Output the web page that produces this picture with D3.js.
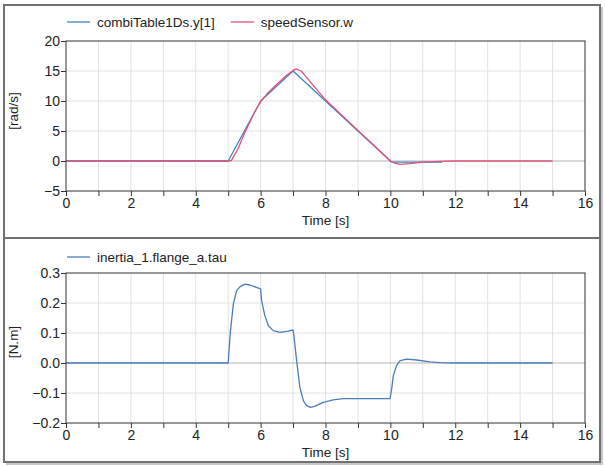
<!DOCTYPE html>
<html>
<head>
<meta charset="utf-8">
<script src="https://cdn.jsdelivr.net/npm/d3@7/dist/d3.min.js"></script>
<style>
  html, body { margin: 0; padding: 0; background: #fff; }
  svg text { font-family: "Liberation Sans", Arial, sans-serif; fill: #222; }
</style>
</head>
<body>
<svg id="chart" width="605" height="467"></svg>
<script>
// ---------- data ----------
const xTicks = [0, 2, 4, 6, 8, 10, 12, 14, 16];
const topYTicks = [-5, 0, 5, 10, 15, 20];
const botYTicks = [-0.2, -0.1, 0.0, 0.1, 0.2, 0.3];

const tableT = [0, 5, 6, 7, 10, 10.05, 11.6];
const tableY = [0, 0, 10, 15, 0, -0.2, -0.2];

const speedT = [0, 5, 5.1, 5.3, 5.5, 5.8, 6.0, 6.2, 6.5, 6.8, 7.0, 7.1, 7.25, 7.5, 8, 9, 9.5, 10, 10.15, 10.3, 10.6, 11, 11.5, 12, 15];
const speedY = [0, 0, 0.1, 2.0, 4.6, 8.0, 9.9, 11.2, 12.8, 14.3, 15.1, 15.35, 15.0, 13.4, 10.2, 5.1, 2.6, 0.0, -0.4, -0.55, -0.45, -0.2, -0.05, 0, 0];

const tauT = [0, 5.0, 5.07, 5.16, 5.26, 5.36, 5.52, 5.67, 5.87, 6.0, 6.03, 6.13, 6.24, 6.39, 6.6, 6.85, 7.0, 7.03, 7.11, 7.21, 7.32, 7.42, 7.54, 7.68, 7.93, 8.24, 8.55, 9.27, 9.99, 10.04, 10.09, 10.19, 10.3, 10.5, 10.81, 11.22, 11.53, 12, 15];
const tauY = [0, 0, 0.108, 0.197, 0.241, 0.254, 0.263, 0.26, 0.252, 0.247, 0.208, 0.158, 0.124, 0.108, 0.102, 0.106, 0.11, 0.086, 0.008, -0.081, -0.126, -0.142, -0.148, -0.144, -0.131, -0.123, -0.119, -0.119, -0.119, -0.087, -0.042, -0.009, 0.008, 0.013, 0.010, 0.004, 0.001, 0, 0];

const topSeries = [
  { name: "combiTable1Ds.y[1]", t: tableT, y: tableY, color: "#3f86c4" },
  { name: "speedSensor.w", t: speedT, y: speedY, color: "#e5507a" }
];
const botSeries = [
  { name: "inertia_1.flange_a.tau", t: tauT, y: tauY, color: "#4a7dbb" }
];

// ---------- drawing ----------
const svg = d3.select("#chart");
const FONT = "'Liberation Sans', Arial, sans-serif";

// outer frame with shadow
svg.append("rect").attr("x", 6).attr("y", 7).attr("width", 597).attr("height", 458).attr("fill", "#c8c8c8");
svg.append("rect").attr("x", 4).attr("y", 5).attr("width", 596).attr("height", 457)
  .attr("fill", "#fff").attr("stroke", "#707070").attr("stroke-width", 2);
svg.append("line").attr("x1", 4).attr("x2", 600).attr("y1", 238).attr("y2", 238)
  .attr("stroke", "#707070").attr("stroke-width", 2);

function panel(opts) {
  const x = d3.scaleLinear().domain([0, 16]).range([66, 585]);
  const y = d3.scaleLinear().domain(opts.yDomain).range([opts.yBottom, opts.yTop]);
  const g = svg.append("g");

  // grid
  g.append("g").selectAll("line").data(d3.range(1, 16)).join("line")
    .attr("x1", d => x(d)).attr("x2", d => x(d))
    .attr("y1", opts.yTop).attr("y2", opts.yBottom)
    .attr("stroke", "#e2e2e2").attr("stroke-width", 1);
  g.append("g").selectAll("line").data(opts.yTicks.slice(1, -1)).join("line")
    .attr("x1", 66).attr("x2", 585)
    .attr("y1", d => y(d)).attr("y2", d => y(d))
    .attr("stroke", d => Math.abs(d) < 1e-9 ? "#b4b4b4" : "#e2e2e2").attr("stroke-width", 1);

  // series
  const line = d3.line().x(d => x(d[0])).y(d => y(d[1]));
  opts.series.forEach(s => {
    g.append("path").datum(s.t.map((t, i) => [t, s.y[i]]))
      .attr("d", line).attr("fill", "none")
      .attr("stroke", s.color).attr("stroke-width", 1.3).attr("stroke-linejoin", "round");
  });

  // frame
  g.append("rect").attr("x", 66).attr("y", opts.yTop).attr("width", 519).attr("height", opts.yBottom - opts.yTop)
    .attr("fill", "none").attr("stroke", "#333").attr("stroke-width", 1);

  // x axis
  const xa = g.append("g").attr("transform", `translate(0,${opts.yBottom})`)
    .call(d3.axisBottom(x).tickValues(d3.range(0, 17)).tickSize(5).tickPadding(2)
      .tickFormat(d => xTicks.includes(d) ? d : ""));
  xa.select(".domain").remove();
  xa.attr("font-family", FONT);
  xa.selectAll("line").attr("stroke", "#333");
  xa.selectAll("text").attr("font-size", "14px").attr("fill", "#222");

  // y axis
  const ya = g.append("g").attr("transform", "translate(66,0)")
    .call(d3.axisLeft(y).tickValues(opts.yTicks).tickSize(5).tickPadding(1).tickFormat(opts.fmt));
  ya.select(".domain").remove();
  ya.attr("font-family", FONT);
  ya.selectAll("line").attr("stroke", "#333");
  ya.selectAll("text").attr("font-size", "14px").attr("fill", "#222");

  // axis titles
  g.append("text").attr("x", x(8)).attr("y", opts.yBottom + 34).attr("text-anchor", "middle")
    .attr("font-size", "13.5px").text("Time [s]");
  g.append("text").attr("transform", `translate(18,${opts.yLabelY}) rotate(-90)`)
    .attr("text-anchor", "middle").attr("font-size", "13.5px").text(opts.yLabel);

  // legend
  let lx = 67;
  opts.series.forEach(s => {
    g.append("line").attr("x1", lx).attr("x2", lx + 23).attr("y1", opts.legendY).attr("y2", opts.legendY)
      .attr("stroke", s.color).attr("stroke-width", 1.3);
    const t = g.append("text").attr("x", lx + 30).attr("y", opts.legendY + 4.5)
      .attr("font-size", "13.5px").text(s.name);
    lx = lx + 30 + t.node().getComputedTextLength() + 16;
  });
}

panel({
  yDomain: [-5, 20], yTop: 41, yBottom: 191, yTicks: topYTicks,
  fmt: d3.format("d"), yLabel: "[rad/s]", yLabelY: 111, legendY: 22, series: topSeries
});
panel({
  yDomain: [-0.2, 0.3], yTop: 273, yBottom: 423, yTicks: botYTicks,
  fmt: d3.format(".1f"), yLabel: "[N.m]", yLabelY: 342, legendY: 257, series: botSeries
});
</script>
</body>
</html>
